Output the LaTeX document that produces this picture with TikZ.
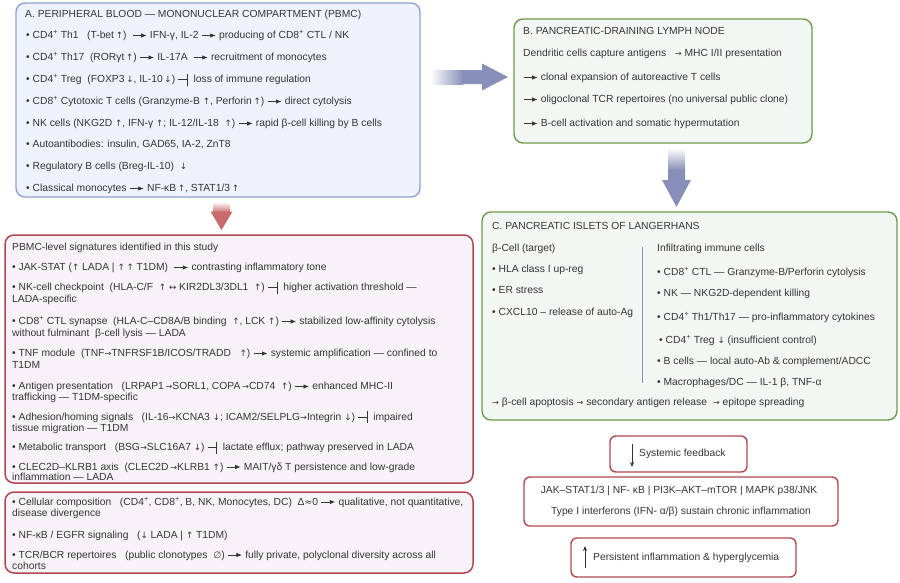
\documentclass[tikz,border=0pt]{standalone}
\usepackage{fontspec}
\setmainfont{Liberation Sans}
\newfontfamily\symf{DejaVu Sans}
\usetikzlibrary{arrows.meta,fit,calc}
\definecolor{txt}{HTML}{353535}
\definecolor{bluefill}{HTML}{EEF2FB}
\definecolor{blueedge}{HTML}{8FA2D8}
\definecolor{greenfill}{HTML}{F2F7F4}
\definecolor{greenedge}{HTML}{6D9A4E}
\definecolor{redfill}{HTML}{F7F2F7}
\definecolor{rededge}{HTML}{B2484F}
\definecolor{arrowblue}{HTML}{8890B9}
\definecolor{arrowred}{HTML}{C96B6C}
\definecolor{divider}{HTML}{8A94C0}
\newcommand{\myua}{{\symf\fontsize{8.7}{10}\selectfont ↑}}
\newcommand{\myda}{{\symf\fontsize{8.7}{10}\selectfont ↓}}
\newcommand{\mylra}{{\symf\fontsize{8.7}{10}\selectfont ↔}}
\newcommand{\mysra}{{\symf\fontsize{8.2}{10}\selectfont →}}
\newcommand{\myempty}{{\symf\fontsize{9.2}{10}\selectfont ∅}}
\newcommand{\myapx}{{\symf\fontsize{9.2}{10}\selectfont ≈}}
\newcommand{\mypa}{\tikz[baseline={(0,-3pt)}]\draw[line width=0.8pt,txt,-{Latex[length=5.5pt,width=4.5pt]}] (0,0)--(14pt,0);}
\newcommand{\myinh}{\tikz[baseline={(0,-3pt)}]{\draw[line width=0.8pt,txt] (0,0)--(9pt,0) (9pt,-6pt)--(9pt,6pt);}}
\newcommand{\mysup}{\textsuperscript{+}}
\begin{document}
\begin{tikzpicture}[x=1pt,y=-1pt,
  ln/.style={anchor=base west,inner sep=0pt,text=txt,font=\fontsize{10.3}{12}\selectfont},
  boxa/.style={draw=blueedge,fill=bluefill,line width=1.4pt,rounded corners=9pt,inner sep=0pt},
  boxg/.style={draw=greenedge,fill=greenfill,line width=1.4pt,rounded corners=9pt,inner sep=0pt},
  boxr/.style={draw=rededge,fill=redfill,line width=1.5pt,rounded corners=9pt,inner sep=0pt},
  boxw/.style={draw=rededge,fill=white,line width=1.4pt,rounded corners=6pt,inner sep=0pt},
  thinarrow/.style={-{Stealth[length=5pt,width=4pt]},line width=0.9pt,black!80}]
\useasboundingbox (0,0) rectangle (900,582);

% boxes
\node[fit={(16,3)(420,197)},boxa] (A) {};
\node[fit={(514,19)(812,143)},boxg] (B) {};
\node[fit={(482,212)(897,420)},boxg] (C) {};
\node[fit={(5,235)(473,483)},boxr] (P) {};
\node[fit={(5,492)(473,573)},boxr] (Q) {};
\node[fit={(610,436)(747,472)},boxw] (S) {};
\node[fit={(524,477)(838,526)},boxw] (J) {};
\node[fit={(571,538)(796,577)},boxw] (H) {};

% big arrows
\coordinate (ab0) at (430,77);
\coordinate (ab1) at (508,77);
\shade[left color=white,right color=arrowblue] ($(ab0)+(0,-7)$) rectangle ($(ab0)+(33,7)$);
\fill[arrowblue] ($(ab0)+(32,-7)$) -- ($(ab1)+(-26,-7)$) -- ($(ab1)+(-26,-13.5)$) -- (ab1) -- ($(ab1)+(-26,13.5)$) -- ($(ab1)+(-26,7)$) -- ($(ab0)+(32,7)$) -- cycle;

\coordinate (bc0) at (676.5,148);
\coordinate (bc1) at (676.5,207);
\shade[top color=white,bottom color=arrowblue] ($(bc0)+(-8.5,0)$) rectangle ($(bc0)+(8.5,22)$);
\fill[arrowblue] ($(bc0)+(-8.5,21.5)$) -- ($(bc0)+(8.5,21.5)$) -- ($(bc1)+(8.5,-27)$) -- ($(bc1)+(14.5,-27)$) -- (bc1) -- ($(bc1)+(-14.5,-27)$) -- ($(bc1)+(-8.5,-27)$) -- cycle;

\coordinate (ap0) at (221.5,202);
\coordinate (ap1) at (221.5,230);
\shade[top color=white,bottom color=arrowred] ($(ap0)+(-8.5,0)$) rectangle ($(ap0)+(8.5,10.5)$);
\fill[arrowred] ($(ap1)+(-11,-18.5)$) -- ($(ap1)+(11,-18.5)$) -- (ap1) -- cycle;

% Box A
\node[ln] (a0) at (25,17.5) {A. PERIPHERAL BLOOD — MONONUCLEAR COMPARTMENT (PBMC)};
\node[ln] (a1) at (26,38.5) {• CD4\mysup{} Th1\ \ \ (T-bet\,\myua)\ \ \mypa\ IFN-γ, IL-2 \mypa\ producing of CD8\mysup{} CTL / NK};
\node[ln] (a2) at (26,60.5) {• CD4\mysup{} Th17\ \ (RORγt\,\myua) \mypa\ IL-17A\ \ \mypa\ recruitment of monocytes};
\node[ln] (a3) at (26,82.5) {• CD4\mysup{} Treg\ \ (FOXP3\,\myda, IL-10\,\myda) \myinh\ \ loss of immune regulation};
\node[ln] (a4) at (26,104.5) {• CD8\mysup{} Cytotoxic T cells (Granzyme-B \myua, Perforin\,\myua) \mypa\ direct cytolysis};
\node[ln] (a5) at (26,126.5) {• NK cells (NKG2D \myua, IFN-γ \myua; IL-12/IL-18\ \ \myua) \mypa\ rapid β-cell killing by B cells};
\node[ln] (a6) at (26,147.5) {• Autoantibodies: insulin, GAD65, IA-2, ZnT8};
\node[ln] (a7) at (26,169.5) {• Regulatory B cells (Breg-IL-10)\ \ \myda};
\node[ln] (a8) at (26,191.5) {• Classical monocytes \mypa\ NF-κB\,\myua, STAT1/3\,\myua};

% Box B
\node[ln] (b0) at (523,34.5) {B. PANCREATIC-DRAINING LYMPH NODE};
\node[ln] (b1) at (523,56.5) {Dendritic cells capture antigens\ \ \ \mysra\ MHC I/II presentation};
\node[ln] (b2) at (523,80.5) {\mypa\ clonal expansion of autoreactive T cells};
\node[ln] (b3) at (523,102.5) {\mypa\ oligoclonal TCR repertoires (no universal public clone)};
\node[ln] (b4) at (523,126.5) {\mypa\ B-cell activation and somatic hypermutation};

% Box PBMC signatures
\node[ln] (p0) at (12,250.5) {PBMC-level signatures identified in this study};
\node[ln] (p1) at (12,270.5) {• JAK-STAT (\myua\ LADA |\ \myua\,\myua\ T1DM)\ \ \mypa\ contrasting inflammatory tone};
\node[ln] (p2) at (12,290.5) {• NK-cell checkpoint\ \ (HLA-C/F\ \ \myua\ \mylra\ KIR2DL3/3DL1\ \ \myua)\ \myinh\ \ higher activation threshold —};
\node[ln] (p2b) at (12,302.5) {LADA-specific};
\node[ln] (p3) at (12,324.5) {• CD8\mysup{} CTL synapse\ \ (HLA-C–CD8A/B binding\ \ \myua, LCK\ \myua)\ \mypa\ stabilized low-affinity cytolysis};
\node[ln] (p3b) at (12,336.5) {without fulminant\ \ β-cell lysis — LADA};
\node[ln] (p4) at (12,356.5) {• TNF module\ \ (TNF\mysra TNFRSF1B/ICOS/TRADD\ \ \ \myua)\ \mypa\ systemic amplification — confined to};
\node[ln] (p4b) at (12,368.5) {T1DM};
\node[ln] (p5) at (12,389.5) {• Antigen presentation\ \ \ (LRPAP1\,\mysra SORL1, COPA\,\mysra CD74\ \ \myua)\ \mypa\ enhanced MHC-II};
\node[ln] (p5b) at (12,400.5) {trafficking — T1DM-specific};
\node[ln] (p6) at (12,420) {• Adhesion/homing signals\ \ \ (IL-16\mysra KCNA3\ \myda; ICAM2/SELPLG\mysra Integrin\ \myda)\ \myinh\ \ impaired};
\node[ln] (p6b) at (12,431) {tissue migration — T1DM};
\node[ln] (p7) at (12,450.5) {• Metabolic transport\ \ \ (BSG\mysra SLC16A7\ \myda)\ \myinh\ \ lactate efflux; pathway preserved in LADA};
\node[ln] (p8) at (12,470) {• CLEC2D–KLRB1 axis\ \ (CLEC2D\,\mysra KLRB1\ \myua)\ \mypa\ MAIT/γδ T persistence and low-grade};
\node[ln] (p8b) at (12,480.5) {inflammation — LADA};

% bottom-left box
\node[ln] (q1) at (12,505) {• Cellular composition\ \ \ (CD4\mysup, CD8\mysup, B, NK, Monocytes, DC)\ \ Δ\myapx0\ \mypa\ qualitative, not quantitative,};
\node[ln] (q1b) at (12,516) {disease divergence};
\node[ln] (q2) at (12,538) {• NF-κB / EGFR signaling\ \ \ (\myda\ LADA |\ \myua\ T1DM)};
\node[ln] (q3) at (12,558) {• TCR/BCR repertoires\ \ \ (public clonotypes\ \ \myempty)\ \mypa\ fully private, polyclonal diversity across all};
\node[ln] (q3b) at (12,569) {cohorts};

% Box C
\node[ln] (c0) at (492,229.5) {C. PANCREATIC ISLETS OF LANGERHANS};
\node[ln] (cl0) at (492,251.5) {β-Cell (target)};
\node[ln] (cl1) at (492,272.5) {• HLA class I up-reg};
\node[ln] (cl2) at (492,293.5) {• ER stress};
\node[ln] (cl3) at (492,315.5) {• CXCL10 – release of auto-Ag};
\coordinate (dv0) at (642,247);
\coordinate (dv1) at (642,383);
\draw[divider,line width=0.9pt] (dv0) -- (dv1);
\node[ln] (cr0) at (657,251.5) {Infiltrating immune cells};
\node[ln] (cr1) at (657,275.5) {• CD8\mysup{} CTL — Granzyme-B/Perforin cytolysis};
\node[ln] (cr2) at (657,296.5) {• NK — NKG2D-dependent killing};
\node[ln] (cr3) at (657,320.5) {• CD4\mysup{} Th1/Th17 — pro-inflammatory cytokines};
\node[ln] (cr4) at (659,343.5) {• CD4\mysup{} Treg\ \myda\ (insufficient control)};
\node[ln] (cr5) at (657,364.5) {• B cells — local auto-Ab \& complement/ADCC};
\node[ln] (cr6) at (657,385.5) {• Macrophages/DC — IL-1 β, TNF-α};
\node[ln] (c9) at (492,405.5) {\mysra\ β-cell apoptosis\ \mysra\ secondary antigen release\ \ \mysra\ epitope spreading};

% right bottom boxes
\coordinate (sf0) at (632,444);
\coordinate (sf1) at (632,467);
\draw[thinarrow] (sf0) -- (sf1);
\node[ln] (s1) at (639,456.5) {Systemic feedback};
\node[anchor=base,inner sep=0pt,text=txt,font=\fontsize{10.3}{12}\selectfont] (j1) at (679,493.5) {JAK–STAT1/3 | NF- κB | PI3K–AKT–mTOR | MAPK p38/JNK};
\node[anchor=base,inner sep=0pt,text=txt,font=\fontsize{10.3}{12}\selectfont] (j2) at (681,514.5) {Type I interferons (IFN- α/β) sustain chronic inflammation};
\coordinate (pe0) at (585,568);
\coordinate (pe1) at (585,546);
\draw[thinarrow] (pe0) -- (pe1);
\node[ln] (h1) at (593,560.5) {Persistent inflammation \& hyperglycemia};
\end{tikzpicture}
\end{document}
